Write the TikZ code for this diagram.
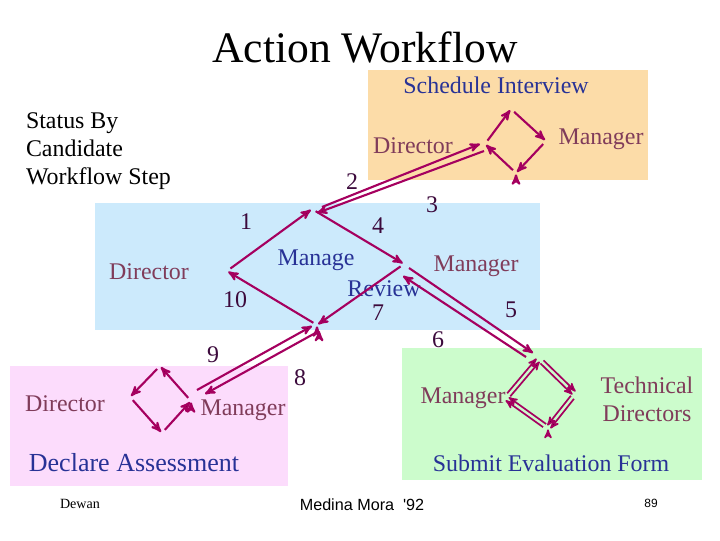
\documentclass[tikz,border=0pt]{standalone}
\usepackage{fontspec}
\setmainfont{Liberation Serif}
\newfontfamily\arialfont{Liberation Sans}
\usetikzlibrary{arrows}
\definecolor{peach}{RGB}{252,220,168}
\definecolor{sky}{RGB}{204,234,252}
\definecolor{blush}{RGB}{252,220,252}
\definecolor{mint}{RGB}{204,252,204}
\definecolor{flow}{RGB}{165,0,95}
\definecolor{actorc}{RGB}{128,60,90}
\definecolor{actc}{RGB}{40,50,150}
\definecolor{stepc}{RGB}{60,10,60}

\begin{document}
\begin{tikzpicture}[x=0.025cm,y=-0.025cm,->,>=stealth',line width=1.5pt,
    every node/.style={inner sep=0pt},
    actor/.style={text=actorc,font=\fontsize{17}{20}\selectfont},
    act/.style={text=actc,font=\fontsize{17}{20}\selectfont},
    num/.style={text=stepc,font=\fontsize{17}{20}\selectfont},
    loopline/.style={draw=flow,shorten <=3pt,shorten >=1pt},
    link/.style={draw=flow},
    box/.style={-,draw=none}]
                \useasboundingbox (0,0) rectangle (720,540);
                % work areas
                \fill[box,peach](368,70)rectangle(648,180);
                \fill[box,sky](95,203)rectangle(540,330);
                \fill[box,blush](10,366)rectangle(288,486);
                \fill[box,mint](402,348)rectangle(702,480);
                % texts
                \node[font=\fontsize{31}{36}\selectfont](title)at(365,47){Action Workflow};
                \node[anchor=west,align=left,font=\fontsize{17}{19.8}\selectfont](status)at(25,151){Status By\\Candidate\\Workflow Step};
                \node[act](schedule)at(496,85){Schedule Interview};
                \node[actor](sdir)at(413,146){Director};
                \node[actor](sman)at(601,139){Manager};
                \node[num](n2)at(352,182){2};
                \node[num](n3)at(432,205){3};
                \node[num](n1)at(246,222){1};
                \node[num](n4)at(378,226){4};
                \node[actor](mdir)at(149,272){Director};
                \node[act](manage)at(316,260){Manage};
                \node[act](review)at(384,289){Review};
                \node[actor](mman)at(476,266){Manager};
                \node[num](n10)at(235,300){10};
                \node[num](n7)at(378,313){7};
                \node[num](n5)at(511,310){5};
                \node[num](n6)at(438,340){6};
                \node[num](n9)at(213,355){9};
                \node[num](n8)at(300,378){8};
                \node[actor](ddir)at(65,404){Director};
                \node[actor](dman)at(243,410){Manager};
                \node[act,font=\fontsize{18.5}{22}\selectfont](declare)at(134,463){Declare Assessment};
                \node[actor](eman)at(463,398){Manager};
                \node[actor,align=center,font=\fontsize{17}{20}\selectfont](tech)at(647,399){Technical\\Directors};
                \node[act](submit)at(551,463){Submit Evaluation Form};
                \node[font=\fontsize{10}{12}\selectfont](dewan)at(80,504){Dewan};
                \node[font=\arialfont\fontsize{11.5}{14}\selectfont](medina)at(362,505){Medina Mora~~'92};
                \node[font=\arialfont\fontsize{8.5}{10}\selectfont](page)at(651,503){89};
                % loop corners
                \coordinate(SL)at(485,144); \coordinate(ST)at(511,109);
                \coordinate(SR)at(546,141); \coordinate(SB)at(516,173);
                \coordinate(ML)at(227,271); \coordinate(MT)at(312,209);
                \coordinate(MR)at(404,264); \coordinate(MB)at(317,325);
                \coordinate(DL)at(130,397); \coordinate(DT)at(160,366);
                \coordinate(DR)at(191,401); \coordinate(DB)at(162,433);
                \coordinate(EL)at(506,398); \coordinate(ET)at(539,359);
                \coordinate(ER)at(575,394); \coordinate(EB)at(548,428);
                % link ends
                \coordinate(m2)at(322,207); \coordinate(s2)at(480,144);
                \coordinate(s3)at(484,151); \coordinate(m3)at(317,213);
                \coordinate(m5)at(409,268); \coordinate(e5)at(533,353);
                \coordinate(e6)at(526,357); \coordinate(m6)at(403,276);
                \coordinate(d9)at(197,390); \coordinate(m9)at(312,326);
                \coordinate(m8)at(319,331); \coordinate(d8)at(205,394);
                % loops
                \path[loopline](SL) edge (ST)
                (ST) edge (SR)
                (SR) edge (SB)
                (SB) edge (SL);
                \path[loopline](ML) edge (MT)
                (MT) edge (MR)
                (MR) edge (MB)
                (MB) edge (ML);
                \path[loopline](DT) edge (DL)
                (DL) edge (DB)
                (DB) edge (DR)
                (DR) edge (DT);
                \path[loopline,line width=1.2pt](EL) edge[transform canvas={shift={(-1.1pt,1.1pt)}}] (ET)
                (EL) edge[transform canvas={shift={(1.1pt,-1.1pt)}}] (ET)
                (ET) edge[transform canvas={shift={(1.1pt,1.1pt)}}] (ER)
                (ET) edge[transform canvas={shift={(-1.1pt,-1.1pt)}}] (ER)
                (ER) edge[transform canvas={shift={(1.1pt,-1.1pt)}}] (EB)
                (ER) edge[transform canvas={shift={(-1.1pt,1.1pt)}}] (EB)
                (EB) edge[transform canvas={shift={(1.1pt,1.1pt)}}] (EL)
                (EB) edge[transform canvas={shift={(-1.1pt,-1.1pt)}}] (EL);
                % hand-overs between loops
                \path[link](m2) edge (s2)
                (s3) edge (m3)
                (m5) edge (e5)
                (e6) edge (m6)
                (d9) edge (m9)
                (m8) edge (d8);
\end{tikzpicture}
\end{document}
